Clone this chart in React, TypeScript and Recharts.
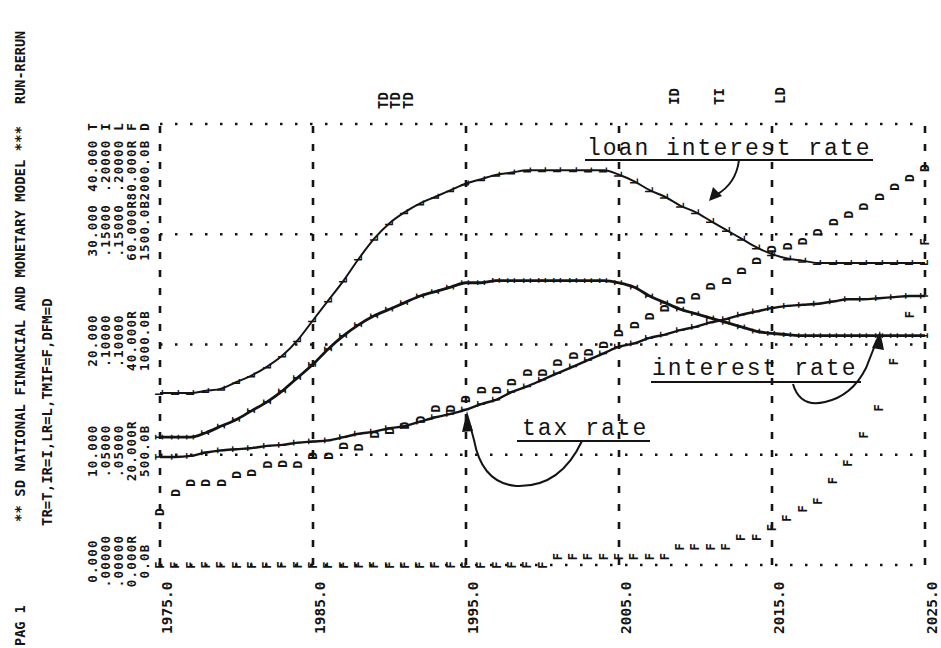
import React from "react";
import { LineChart, Line, XAxis, YAxis, ReferenceLine } from "recharts";

// ---- data (one value per year, 1975..2025) ----
const years: number[] = Array.from({ length: 51 }, (_, i) => 1975 + i);
const decadeTicks = [1975, 1985, 1995, 2005, 2015, 2025];

const taxRate = [
  9.8, 9.8, 9.9, 10.2, 10.4, 10.5, 10.6, 10.8, 10.9, 11.1,
  11.2, 11.3, 11.6, 11.9, 12.1, 12.4, 12.6, 13.0, 13.4, 13.7,
  14.1, 14.6, 15.0, 15.7, 16.2, 16.8, 17.4, 18.0, 18.6, 19.2,
  19.8, 20.1, 20.6, 20.9, 21.3, 21.6, 22.0, 22.3, 22.7, 23.0,
  23.3, 23.5, 23.6, 23.7, 23.9, 24.1, 24.1, 24.2, 24.3, 24.4,
  24.4,
];
const interestRate = [
  0.058, 0.058, 0.058, 0.06, 0.063, 0.066, 0.07, 0.074, 0.079, 0.085,
  0.091, 0.098, 0.104, 0.109, 0.113, 0.116, 0.119, 0.122, 0.124, 0.126,
  0.128, 0.128, 0.129, 0.129, 0.129, 0.129, 0.129, 0.129, 0.129, 0.129,
  0.128, 0.126, 0.122, 0.119, 0.116, 0.114, 0.112, 0.11, 0.108, 0.106,
  0.105, 0.1045, 0.104, 0.104, 0.104, 0.104, 0.104, 0.104, 0.104, 0.104,
  0.104,
];
const loanRate = [
  0.078, 0.078, 0.078, 0.079, 0.08, 0.083, 0.086, 0.09, 0.095, 0.102,
  0.111, 0.12, 0.129, 0.139, 0.148, 0.155, 0.16, 0.164, 0.167, 0.17,
  0.173, 0.175, 0.177, 0.178, 0.179, 0.179, 0.179, 0.179, 0.179, 0.179,
  0.177, 0.174, 0.17, 0.167, 0.163, 0.16, 0.156, 0.152, 0.148, 0.144,
  0.141, 0.139, 0.138, 0.137, 0.137, 0.137, 0.137, 0.137, 0.137, 0.137,
  0.137,
];
const tmif = [
  0, 0, 0, 0, 0, 0, 0, 0, 0, 0,
  0, 0, 0, 0, 0, 0, 0, 0, 0, 0,
  0, 0, 0, 0, 0, 0, 1.5, 1.5, 1.5, 1.5,
  1.5, 1.5, 1.5, 1.5, 3.3, 3.3, 3.3, 3.3, 5.0, 5.0,
  6.8, 8.5, 10.2, 11.6, 15.3, 18.5, 23.6, 28.5, 36.9, 45.4,
  58.6,
];
const dfm = [
  240, 327, 373, 373, 373, 409, 418, 455, 459, 455,
  495, 495, 540, 534, 592, 609, 632, 659, 709, 709,
  753, 793, 793, 829, 873, 873, 918, 950, 964, 998,
  1052, 1088, 1128, 1164, 1200, 1218, 1264, 1289, 1334, 1379,
  1433, 1445, 1468, 1509, 1555, 1589, 1625, 1670, 1715, 1755,
  1800,
];

// scale labels (one row per grid line, columns T, I, L, F, D)
const tTicks = [0, 10, 20, 30, 40];
const scaleLabels: string[][] = [
  ["0.000", ".00000", ".00000", "0.000R", "0.0B"],
  ["10.000", ".05000", ".05000", "20.000R", "500.0B"],
  ["20.000", ".10000", ".10000", "40.000R", "1000.0B"],
  ["30.000", ".15000", ".15000", "60.000R", "1500.0B"],
  ["40.000  T", ".20000  I", ".20000  L", "80.000R F", "2000.0B D"],
];

const data = years.map((year, i) => ({
  year,
  T: taxRate[i],
  I: interestRate[i],
  L: loanRate[i],
  F: tmif[i],
  D: dfm[i],
}));

const INK = "#141414";
const MONO = "'DejaVu Sans Mono', 'Liberation Mono', monospace";
const TYPE = "'Liberation Mono', 'Courier New', monospace";

const makeDot = (ch: string, size: number) => (props: any) => {
  const { cx, cy, index } = props;
  if (cx == null || cy == null || isNaN(cx) || isNaN(cy)) return <g key={`${ch}-${index}`} />;
  return (
    <text
      key={`${ch}-${index}`}
      x={cx}
      y={cy}
      transform={`rotate(-90 ${cx} ${cy})`}
      textAnchor="middle"
      dominantBaseline="central"
      fontFamily={MONO}
      fontWeight="bold"
      fontSize={size}
      fill={INK}
    >
      {ch}
    </text>
  );
};

const labelCols = [97, 110, 123, 136, 149];

const YTick = (props: any) => {
  const { y, payload } = props;
  const idx = tTicks.indexOf(payload.value);
  const row = scaleLabels[idx] || [];
  const top = idx === 4;
  const ty = top ? y - 2 : y - 4;
  return (
    <g>
      {row.map((s, k) => (
        <text
          key={k}
          x={labelCols[k]}
          y={ty}
          transform={`rotate(-90 ${labelCols[k]} ${ty})`}
          textAnchor={top ? "end" : "middle"}
          fontFamily={MONO}
          fontWeight="bold"
          fontSize={12.5}
          letterSpacing={1.2}
          fill={INK}
        >
          {s}
        </text>
      ))}
    </g>
  );
};

const XTick = (props: any) => {
  const { x, payload } = props;
  const tx = x + 12;
  const ty = 634;
  return (
    <text
      x={tx}
      y={ty}
      transform={`rotate(-90 ${tx} ${ty})`}
      textAnchor="start"
      fontFamily={MONO}
      fontWeight="bold"
      fontSize={14.5}
      fill={INK}
    >
      {payload.value.toFixed(1)}
    </text>
  );
};

const vText = (s: string, x: number, y: number, size: number, anchor: string = "start") => (
  <text
    x={x}
    y={y}
    transform={`rotate(-90 ${x} ${y})`}
    textAnchor={anchor as any}
    fontFamily={MONO}
    fontWeight="bold"
    fontSize={size}
    fill={INK}
  >
    {s}
  </text>
);

const Overlay = () => (
  <svg
    width={941}
    height={648}
    style={{ position: "absolute", left: 0, top: 0, pointerEvents: "none" }}
  >
    {/* header columns */}
    {vText("RUN-RERUN", 25, 104, 13.5)}
    {vText("** SD NATIONAL FINANCIAL AND MONETARY MODEL ***", 25, 522, 14)}
    {vText("TR=T,IR=I,LR=L,TMIF=F,DFM=D", 52, 526, 14)}
    {vText("PAG  1", 25, 646, 13.5)}
    {/* overprint markers at top */}
    {vText("TD", 388, 109, 14)}
    {vText("TD", 400, 109, 14)}
    {vText("TD", 413, 109, 14)}
    {vText("ID", 679, 105, 14)}
    {vText("TI", 724, 105, 14)}
    {vText("LD", 785, 104, 14)}

    {/* annotations */}
    <g fontFamily={TYPE} fontSize={23} fill={INK} letterSpacing={2}>
      <text x={587} y={155}>loan interest rate</text>
      <text x={652} y={375}>interest rate</text>
      <text x={522} y={435}>tax rate</text>
    </g>
    <g stroke={INK} strokeWidth={2} fill="none">
      <line x1={585} y1={160} x2={873} y2={160} />
      <line x1={651} y1={382} x2={861} y2={382} />
      <line x1={517} y1={441} x2={650} y2={441} />
      <path d="M739,160 Q736,184 716,195" />
      <path d="M793,384 Q800,408 825,402 Q852,396 866,368 L877,340" />
      <path d="M582,441 Q560,488 516,486 Q482,483 474,440 L470,425" />
    </g>
    <g fill={INK}>
      <polygon points="709,201 713,187 722,196" />
      <polygon points="880,331 872,348 884,350" />
      <polygon points="467,411 462,432 473,431" />
    </g>
  </svg>
);

export default function App() {
  return (
    <div style={{ position: "absolute", left: 0, top: 0, width: 941, height: 648, background: "#fff" }}>
      <LineChart
        width={941}
        height={648}
        data={data}
        margin={{ top: 124, right: 16, bottom: 0, left: 0 }}
      >
        <XAxis
          dataKey="year"
          type="number"
          domain={[1975, 2025]}
          ticks={decadeTicks}
          interval={0}
          height={83}
          axisLine={false}
          tickLine={false}
          tick={<XTick />}
        />
        <YAxis
          yAxisId="T"
          domain={[0, 40]}
          ticks={tTicks}
          interval={0}
          width={160}
          axisLine={false}
          tickLine={false}
          tick={<YTick />}
        />
        <YAxis yAxisId="I" domain={[0, 0.2]} hide />
        <YAxis yAxisId="F" domain={[0, 80]} hide />
        <YAxis yAxisId="D" domain={[0, 2000]} hide />

        {tTicks.map((v) => (
          <ReferenceLine
            key={`h${v}`}
            yAxisId="T"
            y={v}
            stroke={INK}
            strokeWidth={2.5}
            strokeDasharray="2.5 12.5"
          />
        ))}
        {decadeTicks.map((yr) => (
          <ReferenceLine
            key={`v${yr}`}
            yAxisId="T"
            x={yr}
            stroke={INK}
            strokeWidth={2.6}
            strokeDasharray="7 11"
          />
        ))}

        <Line yAxisId="I" dataKey="L" type="monotone" stroke={INK} strokeWidth={2} dot={makeDot("L", 11)} isAnimationActive={false} />
        <Line yAxisId="I" dataKey="I" type="monotone" stroke={INK} strokeWidth={2.8} dot={makeDot("I", 11)} isAnimationActive={false} />
        <Line yAxisId="T" dataKey="T" type="monotone" stroke={INK} strokeWidth={2.4} dot={makeDot("T", 11)} isAnimationActive={false} />
        <Line yAxisId="D" dataKey="D" type="monotone" stroke="none" dot={makeDot("D", 13)} isAnimationActive={false} />
        <Line yAxisId="F" dataKey="F" type="monotone" stroke="none" dot={makeDot("F", 12)} isAnimationActive={false} />
      </LineChart>
      <Overlay />
    </div>
  );
}
